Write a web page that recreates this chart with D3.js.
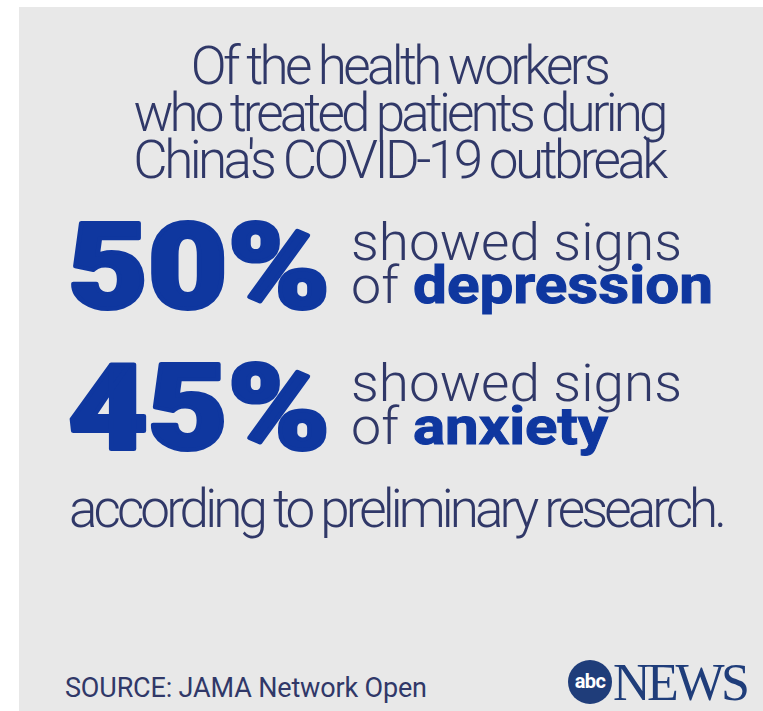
<!DOCTYPE html>
<html>
<head>
<meta charset="utf-8">
<script src="https://cdn.jsdelivr.net/npm/d3@7/dist/d3.min.js"></script>
<style>
  html, body { margin: 0; padding: 0; background: #ffffff; }
  svg { display: block; }
</style>
</head>
<body>
<svg id="chart" width="763" height="711"></svg>
<script>
// ---- data ----
const titleLines = ["Of the health workers", "who treated patients during", "China's COVID-19 outbreak"];
const statValues = [50, 45];
const statLead = ["showed signs", "showed signs"];
const statOf = ["of", "of"];
const statConditions = ["depression", "anxiety"];
const footnote = ["according to preliminary research."];
const sourceText = ["SOURCE: JAMA Network Open"];
const logoText = ["abc", "NEWS"];

// ---- layout (positions / styles) ----
const W = 763, H = 711;
const C = { bg: "#e8e8e8", text: "#303868", blue: "#0f379f", logo: "#1f3d7a" };
const SANS = "Roboto, 'Liberation Sans', sans-serif";
const fLight = { family: SANS, weight: 300, size: 53 };
const fLead = { family: SANS, weight: 300, size: 52 };
const fBold = { family: SANS, weight: 700, size: 51 };
const fBig = { family: SANS, weight: 900, size: 118 };
const fSrc = { family: SANS, weight: 400, size: 27 };
const titleWidths = [420, 535, 535];
const condWidths = [300, 195];

const svg = d3.select("#chart");

function font(sel, f) {
  return sel.attr("font-family", f.family).attr("font-weight", f.weight).attr("font-size", f.size);
}
function measure(str, f) {
  const t = font(svg.append("text"), f).text(str);
  const w = t.node().getComputedTextLength();
  t.remove();
  return w;
}
// letter-spacing that makes str span `target` px
function spacing(str, f, target) {
  return (target - measure(str, f)) / Math.max(1, str.length - 1);
}
// horizontal scale that makes str span `target` px
function stretch(str, f, target) {
  return target / measure(str, f);
}

svg.append("rect").attr("x", 19).attr("y", 7).attr("width", W - 19).attr("height", H - 7).attr("fill", C.bg);

// title
const titleY = d3.scaleLinear().domain([0, 2]).range([84, 178]);
font(svg.selectAll("text.title").data(titleLines).join("text"), fLight)
  .attr("class", "title")
  .attr("x", 399).attr("y", (d, i) => titleY(i))
  .attr("text-anchor", "middle")
  .attr("fill", C.text)
  .attr("letter-spacing", (d, i) => spacing(d, fLight, titleWidths[i]))
  .text(d => d);

// stats rows
const rowY = d3.scalePoint().domain(d3.range(statValues.length)).range([308, 449]);
const fmt = d => d3.format("d")(d) + "%";

const rows = svg.selectAll("g.row").data(statValues).join("g")
  .attr("class", "row")
  .attr("transform", (d, i) => `translate(0,${rowY(i)})`);

font(rows.append("text"), fBig)
  .attr("transform", d => `translate(68,0) scale(${stretch(fmt(d), fBig, 262)},1)`)
  .attr("fill", C.blue)
  .attr("stroke", C.blue).attr("stroke-width", 4).attr("stroke-linejoin", "round")
  .text(d => fmt(d));

font(rows.append("text"), fLead)
  .attr("transform", (d, i) => `translate(351,-48) scale(${stretch(statLead[i], fLead, 331)},1)`)
  .attr("fill", C.text)
  .text((d, i) => statLead[i]);

font(rows.append("text"), fLead)
  .attr("transform", (d, i) => `translate(351,-5) scale(${stretch(statOf[i], fLead, 48)},1)`)
  .attr("fill", C.text)
  .text((d, i) => statOf[i]);

font(rows.append("text"), fBold)
  .attr("transform", (d, i) => `translate(413,-5) scale(${stretch(statConditions[i], fBold, condWidths[i])},1)`)
  .attr("fill", C.blue)
  .attr("stroke", C.blue).attr("stroke-width", 1)
  .text((d, i) => statConditions[i]);

// footnote
font(svg.selectAll("text.foot").data(footnote).join("text"), fLight)
  .attr("class", "foot")
  .attr("x", 69).attr("y", 527)
  .attr("fill", C.text)
  .attr("letter-spacing", d => spacing(d, fLight, 658))
  .text(d => d);

// source
font(svg.selectAll("text.src").data(sourceText).join("text"), fSrc)
  .attr("class", "src")
  .attr("x", 65).attr("y", 697)
  .attr("fill", C.text)
  .attr("letter-spacing", d => spacing(d, fSrc, 362))
  .text(d => d);

// logo
const logo = svg.append("g").attr("transform", "translate(590,682)");
logo.append("circle").attr("r", 22).attr("fill", C.logo);
const fAbc = { family: SANS, weight: 700, size: 20 };
font(logo.append("text"), fAbc)
  .attr("x", 0).attr("y", 6)
  .attr("text-anchor", "middle")
  .attr("fill", "#ffffff")
  .attr("letter-spacing", spacing(logoText[0], fAbc, 31))
  .text(logoText[0]);
const fNews = { family: "'Liberation Serif', 'DejaVu Serif', serif", weight: 400, size: 52 };
font(svg.append("text"), fNews)
  .attr("x", 613).attr("y", 700)
  .attr("fill", C.logo)
  .attr("letter-spacing", spacing(logoText[1], fNews, 137))
  .text(logoText[1]);
</script>
</body>
</html>
